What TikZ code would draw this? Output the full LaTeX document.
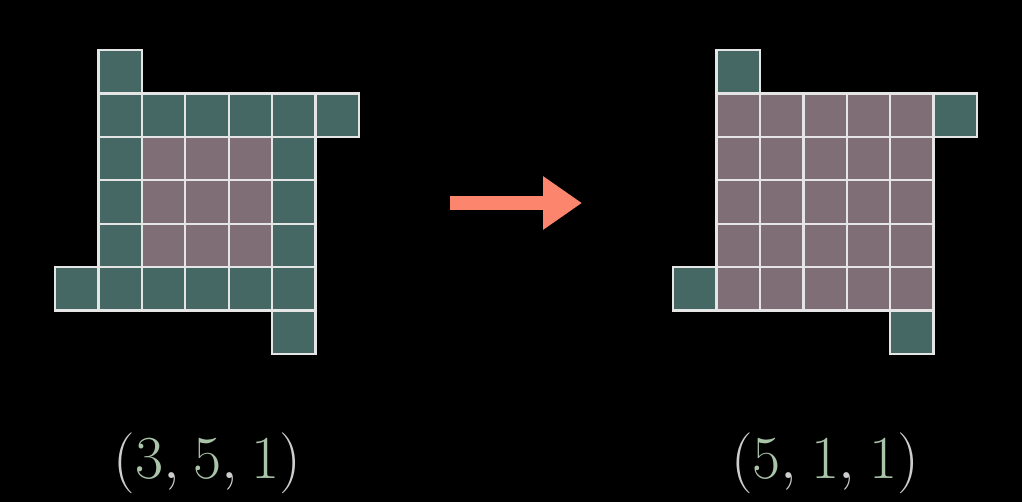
\RequirePackage{fix-cm}
\documentclass[tikz,border=0pt]{standalone}
\usepackage{amsmath}
\usetikzlibrary{arrows.meta}

\definecolor{cellgreen}{RGB}{69,104,101}
\definecolor{cellpink}{RGB}{128,110,118}
\definecolor{arrowred}{RGB}{252,133,110}
\definecolor{numgreen}{RGB}{170,196,170}
\definecolor{pargray}{RGB}{205,205,205}

\tikzset{
  cellbox/.style={draw=white!90!black, line width=2.4pt, minimum size=43.43pt, inner sep=0pt},
  gcell/.style={cellbox, fill=cellgreen},
  pcell/.style={cellbox, fill=cellpink},
  tuplelabel/.style={anchor=base, text=pargray, font=\fontsize{61}{72}\selectfont}
}
\newcommand{\numg}[1]{\textcolor{numgreen}{#1}}
\newcommand{\cm}{,\mkern1mu}

\begin{document}
\begin{tikzpicture}[x=1pt,y=-1pt]

  \fill[black] (0,0) rectangle (1022,502);
  \useasboundingbox (0,0) rectangle (1022,502);

  % left grid: (3,5,1)
  \foreach \c/\r in {1/0, 1/1,2/1,3/1,4/1,5/1,6/1, 1/2,5/2, 1/3,5/3, 1/4,5/4,
                     0/5,1/5,2/5,3/5,4/5,5/5, 5/6}
    \node[gcell] (L-\c-\r) at ({55+43.43*(\c+0.5)},{50+43.43*(\r+0.5)}) {};
  \foreach \c in {2,3,4}
    \foreach \r in {2,3,4}
      \node[pcell] (L-\c-\r) at ({55+43.43*(\c+0.5)},{50+43.43*(\r+0.5)}) {};

  % right grid: (5,1,1)
  \foreach \c/\r in {1/0, 6/1, 0/5, 5/6}
    \node[gcell] (R-\c-\r) at ({673+43.43*(\c+0.5)},{50+43.43*(\r+0.5)}) {};
  \foreach \c in {1,...,5}
    \foreach \r in {1,...,5}
      \node[pcell] (R-\c-\r) at ({673+43.43*(\c+0.5)},{50+43.43*(\r+0.5)}) {};

  % arrow
  \coordinate (arrL) at (450,203);
  \coordinate (arrR) at (582,203);
  \draw[arrowred, line width=14pt, -{Triangle[length=39pt,width=51pt]}] (arrL) -- (arrR);

  % labels
  \node[tuplelabel] (leftlab) at (207.5,478) {$(\numg{3}\cm\numg{5}\cm\numg{1})$};
  \node[tuplelabel] (rightlab) at (825,478) {$(\numg{5}\cm\numg{1}\cm\numg{1})$};

\end{tikzpicture}
\end{document}
